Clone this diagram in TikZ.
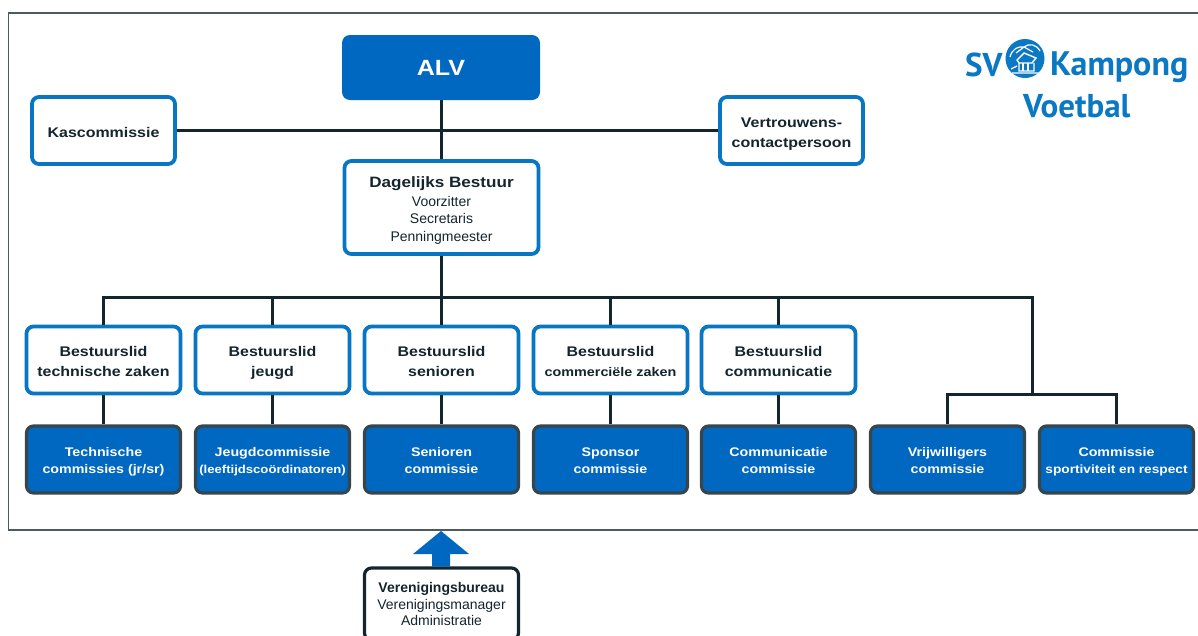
\documentclass[tikz,border=0pt]{standalone}
\usepackage{fontspec}
\setmainfont{Liberation Sans}
\newfontfamily\wideb[FakeStretch=1.14]{Liberation Sans Bold}
\newfontfamily\logof{PT Sans Bold}
\usetikzlibrary{arrows.meta}
\definecolor{kblue}{HTML}{0068C0}
\definecolor{kline}{HTML}{14252E}
\definecolor{kframe}{HTML}{4C5C5E}
\definecolor{klogo}{HTML}{0A78C2}
\newcommand{\whtop}{\rule{0pt}{16pt}}
\newcommand{\bltop}{\rule{0pt}{14pt}}
\tikzset{
  x=1pt,y=-1pt,
  baseb/.style={rounded corners=7pt,line width=3.8pt,align=center,inner sep=0pt,minimum width=154pt,minimum height=67pt},
  whiteplain/.style={baseb,draw=klogo!85!kblue,fill=white,text=kline,font=\wideb\fontsize{14}{20}\selectfont},
  whitebox/.style={whiteplain,execute at end node={\rule[-4pt]{0pt}{4pt}}},
  bluebox/.style={baseb,line width=3.2pt,draw=kline!85!white,fill=kblue,text=white,font=\wideb\fontsize{12.5}{17}\selectfont,execute at end node={\rule[-4pt]{0pt}{4pt}}},
  alvbox/.style={rounded corners=8pt,fill=kblue,text=white,minimum width=198pt,minimum height=65pt,inner sep=0pt,font=\wideb\fontsize{22}{24}\selectfont},
  wire/.style={draw=kline,line width=3pt},
  logotext/.style={text=klogo,font=\logof,inner sep=0pt,anchor=base west}
}
\begin{document}
\begin{tikzpicture}
\useasboundingbox (0,0) rectangle (1198,635);
\clip (0,0) rectangle (1198,635);
\fill[white] (0,0) rectangle (1198,635);
% frame
\draw[kframe,line width=1.6pt] (1198,13) -- (8.5,13) -- (8.5,530) -- (1198,530);
% connector ends that are not boxes
\coordinate (busc) at (441.5,297.5);
\coordinate (busr) at (1032.5,297.5);
\coordinate (forkc) at (1032.5,394.5);
\coordinate (alvp) at (441,67.5);
\coordinate (kasp) at (103.5,130.5);
\coordinate (vertp) at (791.5,130.5);
\coordinate (dbp) at (441.5,207.5);
\draw[wire] (alvp -| dbp) -- (dbp);
\draw[wire] (kasp) -- (vertp);
\draw[wire] (dbp) -- (busc);
% nodes
\node[alvbox] (alv) at (alvp) {ALV};
\node[whiteplain,minimum width=143pt] (kas) at (kasp) {\rule{0pt}{18pt}Kascommissie\rule[-4pt]{0pt}{4pt}};
\node[whitebox,minimum width=143pt] (vert) at (vertp) {\rule{0pt}{18pt}Vertrouwens-\\contactpersoon};
\node[baseb,draw=klogo!85!kblue,fill=white,text=kline,minimum width=194pt,minimum height=93pt,font=\fontsize{14}{17.3}\selectfont] (db) at (dbp) {\rule{0pt}{18pt}{\wideb\fontsize{15}{17.3}\selectfont Dagelijks Bestuur}\\[1.5pt]Voorzitter\\Secretaris\\Penningmeester\rule[-4pt]{0pt}{4pt}};
\node[whitebox] (b1) at (103.5,360) {\whtop Bestuurslid\\technische zaken};
\node[whitebox] (b2) at (272.5,360) {\whtop Bestuurslid\\jeugd};
\node[whitebox] (b3) at (441.5,360) {\whtop Bestuurslid\\senioren};
\node[whitebox] (b4) at (610.5,360) {\whtop Bestuurslid\\{\fontsize{12.6}{20}\selectfont commerciële zaken}};
\node[whitebox] (b5) at (778.5,360) {\whtop Bestuurslid\\communicatie};
\node[bluebox] (c1) at (103.5,459.5) {\bltop Technische\\commissies (jr/sr)};
\node[bluebox] (c2) at (272.5,459.5) {\bltop Jeugdcommissie\\{\fontsize{11.5}{17}\selectfont (leeftijdscoördinatoren)}};
\node[bluebox] (c3) at (441.5,459.5) {\bltop Senioren\\commissie};
\node[bluebox] (c4) at (610.5,459.5) {\bltop Sponsor\\commissie};
\node[bluebox] (c5) at (778.5,459.5) {\bltop Communicatie\\commissie};
\node[bluebox] (c6) at (947.5,459.5) {\bltop Vrijwilligers\\commissie};
\node[bluebox] (c7) at (1116.5,459.5) {\bltop Commissie\\{\fontsize{12}{17}\selectfont sportiviteit en respect}};
% connectors
\draw[wire] (b1.north) |- (busr) -- (forkc);
\draw[wire] (b2.north) -- (b2.north |- busc);
\draw[wire] (b3.north) -- (b3.north |- busc);
\draw[wire] (b4.north) -- (b4.north |- busc);
\draw[wire] (b5.north) -- (b5.north |- busc);
\draw[wire] (c6.north) |- (forkc) -| (c7.north);
\foreach \i in {1,...,5}{\draw[wire] (b\i) -- (c\i);}
% Verenigingsbureau
\node[baseb,line width=3.2pt,draw=kline,fill=white,text=kline,minimum height=72pt,font=\fontsize{14}{16.7}\selectfont] (vb) at (441.5,604) {{\bfseries Verenigingsbureau}\\Verenigingsmanager\\Administratie};
\coordinate (tip) at (441,531);
\fill[kblue] (tip) -- (469,554) -- (450,554) -- (450,566.5) -- (432,566.5) -- (432,554) -- (413,554) -- cycle;
% logo
\node[logotext,font=\logof\fontsize{33}{36}\selectfont] (sv) at (965,76) {SV};
\node[logotext,font=\logof\fontsize{34}{36}\selectfont] (kamp) at (1050,75) {Kampong};
\node[logotext,font=\logof\fontsize{33}{36}\selectfont] (voet) at (1023,117) {Voetbal};
\fill[klogo] (1025,58.5) circle (19.5);
\draw[white,line width=1.4pt] (1017,60) -- (1024,53) -- (1036,58) -- (1032,63) -- (1019,63) -- cycle (1019,63) -- (1019,71) -- (1034,71) -- (1034,63);
\draw[white,line width=1.1pt] (1023,63) -- (1023,71) (1028,63) -- (1028,71);
\draw[white,line width=1.2pt] (1010,57) .. controls (1012,49) and (1018,46) .. (1024,47) (1024,47) .. controls (1029,43) and (1036,44) .. (1040,51) (1024,47) -- (1016,53) (1024,47) -- (1033,52);
\draw[white,line width=1.2pt] (1011,69) -- (1017,66) (1012,73) -- (1040,73);
\end{tikzpicture}
\end{document}
